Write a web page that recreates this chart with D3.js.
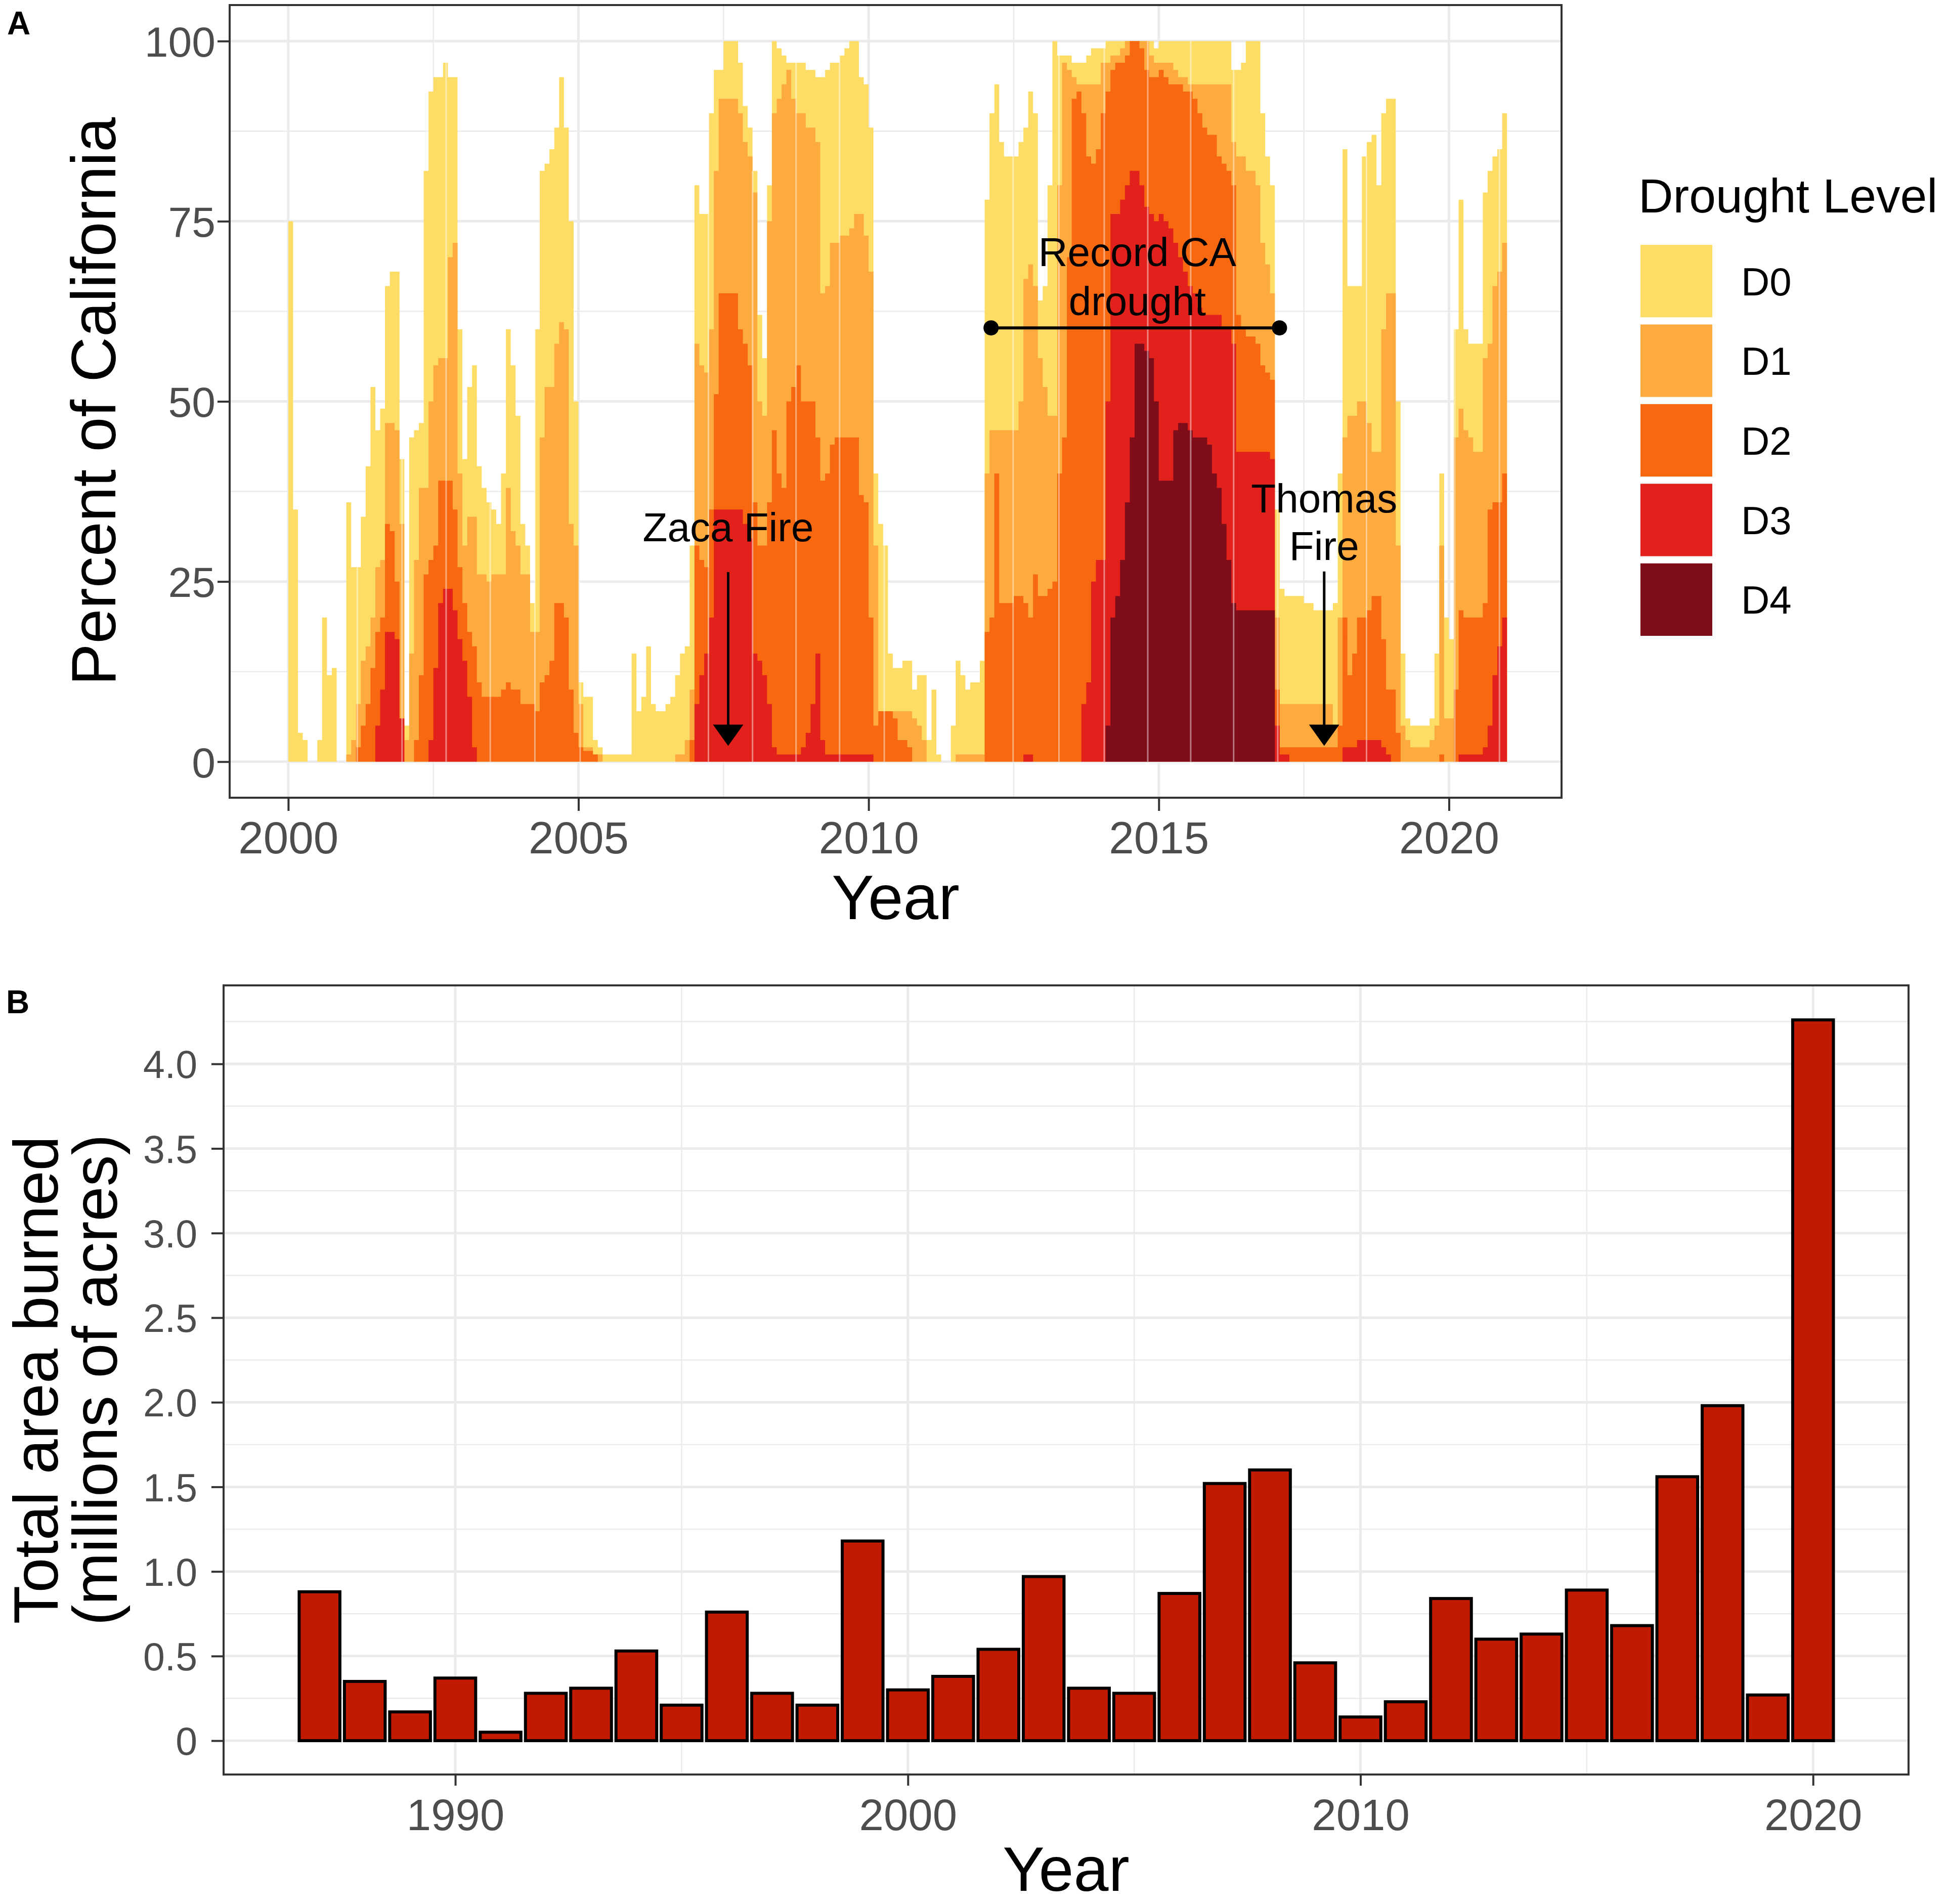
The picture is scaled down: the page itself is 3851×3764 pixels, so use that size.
<!DOCTYPE html>
<html>
<head>
<meta charset="utf-8">
<script src="https://cdn.jsdelivr.net/npm/d3@7"></script>
<style>
  body { margin: 0; background: #fff; }
  svg { display: block; }
  text { font-family: "Liberation Sans", Arial, Helvetica, sans-serif; }
</style>
</head>
<body>
<div id="chart"></div>
<script>
// Panel A: percent of California in each drought level, monthly from Jan 2000 (cumulative D0-D4 etc.)
const droughtStart = 2000
const droughtD0 = [
  75, 35, 4, 3, 0, 0, 3, 20, 12, 13, 0, 0, // 2000
  36, 27, 27, 34, 41, 52, 46, 49, 66, 68, 68, 42, // 2001
  5, 45, 46, 47, 82, 93, 95, 95, 97, 95, 95, 60, // 2002
  42, 52, 55, 41, 38, 36, 35, 33, 40, 60, 55, 48, // 2003
  33, 30, 22, 60, 82, 83, 85, 88, 95, 88, 75, 50, // 2004
  11, 9, 9, 3, 2, 1, 1, 1, 1, 1, 1, 15, // 2005
  7, 9, 16, 8, 7, 7, 8, 9, 12, 15, 16, 30, // 2006
  80, 76, 76, 90, 96, 96, 100, 100, 100, 97, 91, 88, // 2007
  82, 62, 56, 80, 100, 99, 98, 97, 97, 97, 97, 96, // 2008
  96, 95, 95, 96, 97, 97, 98, 99, 100, 100, 95, 94, // 2009
  88, 40, 33, 30, 15, 13, 13, 14, 14, 10, 12, 12, // 2010
  3, 10, 1, 0, 0, 5, 14, 12, 10, 11, 11, 14, // 2011
  78, 90, 94, 86, 84, 84, 84, 86, 88, 93, 90, 64, // 2012
  66, 80, 100, 98, 98, 98, 97, 97, 97, 98, 99, 99, // 2013
  99, 100, 100, 100, 100, 100, 100, 100, 100, 100, 100, 99, // 2014
  100, 100, 100, 100, 100, 100, 100, 100, 100, 100, 100, 100, // 2015
  100, 100, 100, 96, 96, 97, 100, 100, 100, 90, 84, 80, // 2016
  35, 24, 23, 23, 23, 23, 22, 22, 21, 21, 21, 21, // 2017
  22, 40, 85, 66, 66, 66, 84, 86, 87, 80, 90, 92, // 2018
  92, 50, 15, 6, 5, 5, 5, 5, 6, 15, 40, 20, // 2019
  17, 60, 78, 60, 58, 58, 58, 79, 82, 84, 85, 90 // 2020
]
const droughtD1 = [
  0, 0, 0, 0, 0, 0, 0, 0, 0, 0, 0, 0,
  1, 3, 8, 14, 16, 20, 27, 28, 47, 47, 46, 33,
  3, 15, 28, 38, 38, 50, 55, 56, 56, 70, 72, 40,
  30, 34, 34, 26, 26, 25, 26, 26, 26, 38, 32, 30,
  26, 26, 18, 18, 45, 52, 52, 58, 61, 60, 33, 30,
  8, 2, 2, 1, 1, 0, 0, 0, 0, 0, 0, 0,
  0, 0, 0, 0, 0, 0, 0, 0, 1, 1, 3, 10,
  58, 55, 54, 60, 82, 92, 92, 92, 92, 90, 86, 84,
  79, 50, 48, 75, 90, 92, 94, 96, 92, 90, 90, 88,
  88, 86, 65, 66, 72, 72, 73, 73, 74, 76, 76, 73,
  68, 30, 6, 7, 7, 7, 7, 7, 7, 6, 5, 3,
  0, 0, 0, 0, 0, 0, 1, 1, 1, 1, 1, 1,
  40, 46, 46, 46, 46, 46, 46, 50, 67, 69, 66, 56,
  52, 48, 48, 80, 97, 96, 95, 94, 94, 94, 94, 94,
  97, 97, 98, 98, 99, 100, 100, 100, 100, 100, 98, 97,
  97, 97, 97, 96, 95, 95, 94, 94, 94, 94, 94, 94,
  94, 94, 94, 86, 84, 84, 82, 82, 80, 72, 69, 65,
  20, 8, 8, 8, 8, 8, 8, 8, 8, 8, 8, 8,
  5, 20, 45, 48, 48, 50, 50, 47, 43, 43, 60, 65,
  65, 30, 5, 3, 2, 2, 2, 2, 3, 5, 30, 6,
  6, 45, 49, 46, 45, 43, 43, 56, 58, 66, 68, 72
]
const droughtD2 = [
  0, 0, 0, 0, 0, 0, 0, 0, 0, 0, 0, 0,
  0, 0, 2, 5, 8, 13, 18, 20, 33, 32, 25, 5,
  0, 0, 3, 12, 26, 28, 30, 39, 39, 39, 35, 27,
  22, 18, 16, 11, 9, 9, 9, 9, 10, 11, 10, 10,
  8, 8, 8, 7, 11, 12, 14, 22, 22, 20, 10, 4,
  2, 1.5, 1.5, 1, 0, 0, 0, 0, 0, 0, 0, 0,
  0, 0, 0, 0, 0, 0, 0, 0, 0, 0, 0, 3,
  30, 28, 27, 35, 51, 65, 65, 65, 65, 60, 58, 55,
  36, 30, 30, 36, 46, 40, 38, 50, 52, 55, 50, 50,
  50, 45, 39, 40, 44, 45, 45, 45, 45, 45, 37, 36,
  20, 5, 7, 7, 7, 6, 3, 3, 2, 0, 0, 0,
  0, 0, 0, 0, 0, 0, 0, 0, 0, 0, 0, 0,
  18, 20, 40, 22, 22, 22, 23, 23, 22, 20, 26, 23,
  23, 24, 25, 40, 45, 70, 92, 93, 90, 84, 83, 85,
  90, 93, 96, 97, 97, 98, 100, 100, 99, 96, 95, 95,
  96, 95, 94, 94, 94, 93, 93, 92, 90, 88, 87, 87,
  84, 83, 82, 80, 62, 60, 59, 59, 58, 55, 54, 53,
  10, 2, 2, 2, 2, 2, 2, 2, 2, 2, 2, 2,
  2, 5, 20, 12, 15, 20, 20, 21, 23, 23, 17, 10,
  10, 4, 0, 0, 0, 0, 0, 0, 0, 0, 1, 0,
  0, 10, 21, 20, 20, 20, 20, 22, 35, 36, 36, 40
]
const droughtD3 = [
  0, 0, 0, 0, 0, 0, 0, 0, 0, 0, 0, 0,
  0, 0, 0, 0, 0, 0, 5, 10, 18, 18, 17, 6,
  0, 0, 0, 0, 0, 3, 13, 22, 24, 24, 21, 17,
  14, 9, 2, 0, 0, 0, 0, 0, 0, 0, 0, 0,
  0, 0, 0, 0, 0, 0, 0, 0, 0, 0, 0, 0,
  0, 0, 0, 0, 0, 0, 0, 0, 0, 0, 0, 0,
  0, 0, 0, 0, 0, 0, 0, 0, 0, 0, 0, 0,
  8, 12, 15, 20, 35, 35, 35, 35, 35, 35, 33, 31,
  15, 14, 12, 8, 2, 1, 1, 1, 1, 1, 2, 4,
  8, 15, 3, 1, 1, 1, 1, 1, 1, 1, 1, 1,
  1, 0, 0, 0, 0, 0, 0, 0, 0, 0, 0, 0,
  0, 0, 0, 0, 0, 0, 0, 0, 0, 0, 0, 0,
  0, 0, 0, 0, 0, 0, 0, 0, 1, 1, 0, 0,
  0, 0, 0, 0, 0, 0, 0, 0, 8, 11, 25, 28,
  28, 50, 76, 76, 78, 80, 82, 82, 80, 77, 76, 75,
  76, 75, 74, 72, 70, 68, 66, 65, 63, 62, 62, 62,
  62, 60, 60, 58, 43, 43, 43, 43, 43, 43, 43, 42,
  5, 1, 1, 0, 0, 0, 0, 0, 0, 0, 0, 0,
  0, 0, 2, 2, 2, 3, 3, 3, 3, 3, 2, 1,
  0, 0, 0, 0, 0, 0, 0, 0, 0, 0, 0, 0,
  0, 0, 1, 1, 1, 1, 1, 2, 5, 12, 16, 20
]
const droughtD4 = [
  0, 0, 0, 0, 0, 0, 0, 0, 0, 0, 0, 0,
  0, 0, 0, 0, 0, 0, 0, 0, 0, 0, 0, 0,
  0, 0, 0, 0, 0, 0, 0, 0, 0, 0, 0, 0,
  0, 0, 0, 0, 0, 0, 0, 0, 0, 0, 0, 0,
  0, 0, 0, 0, 0, 0, 0, 0, 0, 0, 0, 0,
  0, 0, 0, 0, 0, 0, 0, 0, 0, 0, 0, 0,
  0, 0, 0, 0, 0, 0, 0, 0, 0, 0, 0, 0,
  0, 0, 0, 0, 0, 0, 0, 0, 0, 0, 0, 0,
  0, 0, 0, 0, 0, 0, 0, 0, 0, 0, 0, 0,
  0, 0, 0, 0, 0, 0, 0, 0, 0, 0, 0, 0,
  0, 0, 0, 0, 0, 0, 0, 0, 0, 0, 0, 0,
  0, 0, 0, 0, 0, 0, 0, 0, 0, 0, 0, 0,
  0, 0, 0, 0, 0, 0, 0, 0, 0, 0, 0, 0,
  0, 0, 0, 0, 0, 0, 0, 0, 0, 0, 0, 0,
  0, 5, 20, 23, 28, 36, 45, 58, 58, 57, 56, 50,
  39, 39, 39, 46, 47, 47, 46, 45, 45, 45, 44, 40,
  38, 33, 28, 22, 21, 21, 21, 21, 21, 21, 21, 21,
  0, 0, 0, 0, 0, 0, 0, 0, 0, 0, 0, 0,
  0, 0, 0, 0, 0, 0, 0, 0, 0, 0, 0, 0,
  0, 0, 0, 0, 0, 0, 0, 0, 0, 0, 0, 0,
  0, 0, 0, 0, 0, 0, 0, 0, 0, 0, 0, 0
]
const droughtLevels = ['D0', 'D1', 'D2', 'D3', 'D4']
const droughtColors = ['#FEDD67', '#FDAA3F', '#F76810', '#E2211C', '#7E0C19']
// faint seams visible in the original raster
const seamYears = [2000.43, 2001.19, 2001.96, 2002.72, 2003.48, 2004.25, 2005.03, 2007.24, 2008.0, 2008.75,
  2009.5, 2010.27, 2012.49, 2013.28, 2014.06, 2014.81, 2015.55, 2016.29, 2017.05, 2018.58, 2020.1, 2020.87]

const droughtYTicks = [0, 25, 50, 75, 100]
const droughtYMinor = [12.5, 37.5, 62.5, 87.5]
const droughtXTicks = [2000, 2005, 2010, 2015, 2020]
const droughtXMinor = [2002.5, 2007.5, 2012.5, 2017.5]

const fireEvents = [
  { name: ['Zaca Fire'], year: 2007.58, labelY: [30.6], arrowTop: 26.3, arrowTip: 2.2 },
  { name: ['Thomas', 'Fire'], year: 2017.85, labelY: [34.6, 28.0], arrowTop: 26.4, arrowTip: 2.2 }
]
const recordDrought = { label: ['Record CA', 'drought'], start: 2012.11, end: 2017.08, level: 60.2, labelX: 2014.63, labelY: [68.8, 62.0] }

// Panel B: total area burned, millions of acres
const fireYears = [1987, 1988, 1989, 1990, 1991, 1992, 1993, 1994, 1995, 1996, 1997, 1998, 1999, 2000, 2001,
  2002, 2003, 2004, 2005, 2006, 2007, 2008, 2009, 2010, 2011, 2012, 2013, 2014, 2015, 2016, 2017, 2018, 2019, 2020]
const fireAcres = [0.88, 0.35, 0.17, 0.37, 0.05, 0.28, 0.31, 0.53, 0.21, 0.76, 0.28, 0.21, 1.18, 0.30, 0.38,
  0.54, 0.97, 0.31, 0.28, 0.87, 1.52, 1.60, 0.46, 0.14, 0.23, 0.84, 0.60, 0.63, 0.89, 0.68, 1.56, 1.98, 0.27, 4.26]
const fireYTicks = [0, 0.5, 1.0, 1.5, 2.0, 2.5, 3.0, 3.5, 4.0]
const fireYMinor = [0.25, 0.75, 1.25, 1.75, 2.25, 2.75, 3.25, 3.75, 4.25]
const fireXTicks = [1990, 2000, 2010, 2020]
const fireXMinor = [1995, 2005, 2015]

const W = 3851
const H = 3764
const tickColor = '#4D4D4D'
const borderColor = '#333333'
const gridColor = '#EBEBEB'

const svg = d3.select('#chart')
  .append('svg')
  .attr('width', W)
  .attr('height', H)

svg.append('rect').attr('width', W).attr('height', H).attr('fill', '#fff')

// ---------- Panel A ----------
const pA = { left: 454, right: 3087, top: 10, bottom: 1577 }
const xA = d3.scaleLinear().domain([1998.99, 2021.94]).range([pA.left, pA.right])
const yA = d3.scaleLinear().domain([-5, 105]).range([pA.bottom, pA.top])

const gA = svg.append('g')

const drawGrid = (g, p, x, y, xMaj, xMin, yMaj, yMin) => {
  g.selectAll('.ymin').data(yMin).enter().append('line')
    .attr('x1', p.left).attr('x2', p.right)
    .attr('y1', d => y(d)).attr('y2', d => y(d))
    .attr('stroke', gridColor).attr('stroke-width', 2.5)
  g.selectAll('.xmin').data(xMin).enter().append('line')
    .attr('y1', p.top).attr('y2', p.bottom)
    .attr('x1', d => x(d)).attr('x2', d => x(d))
    .attr('stroke', gridColor).attr('stroke-width', 2.5)
  g.selectAll('.ymaj').data(yMaj).enter().append('line')
    .attr('x1', p.left).attr('x2', p.right)
    .attr('y1', d => y(d)).attr('y2', d => y(d))
    .attr('stroke', gridColor).attr('stroke-width', 5)
  g.selectAll('.xmaj').data(xMaj).enter().append('line')
    .attr('y1', p.top).attr('y2', p.bottom)
    .attr('x1', d => x(d)).attr('x2', d => x(d))
    .attr('stroke', gridColor).attr('stroke-width', 5)
}

drawGrid(gA, pA, xA, yA, droughtXTicks, droughtXMinor, droughtYTicks, droughtYMinor)

const monthDate = i => droughtStart + i / 12
const levelArea = d3.area()
  .curve(d3.curveStepAfter)
  .x(d => xA(d.t))
  .y0(yA(0))
  .y1(d => yA(d.v))

const droughtSeries = [droughtD0, droughtD1, droughtD2, droughtD3, droughtD4]
droughtSeries.forEach((values, k) => {
  const pts = values.map((v, i) => ({ t: monthDate(i), v }))
  pts.push({ t: monthDate(values.length), v: values[values.length - 1] })
  gA.append('path')
    .datum(pts)
    .attr('d', levelArea)
    .attr('fill', droughtColors[k])
})

gA.selectAll('.seam').data(seamYears).enter().append('line')
  .attr('x1', d => xA(d)).attr('x2', d => xA(d))
  .attr('y1', yA(0))
  .attr('y2', d => yA(droughtD0[Math.min(droughtD0.length - 1, Math.floor((d - droughtStart) * 12))]))
  .attr('stroke', '#fff').attr('stroke-opacity', 0.45).attr('stroke-width', 3)

// annotations
const drawArrow = (g, x, top, tip) => {
  g.append('line')
    .attr('x1', x).attr('x2', x)
    .attr('y1', top).attr('y2', tip - 30)
    .attr('stroke', '#000').attr('stroke-width', 5)
  g.append('path')
    .attr('d', `M${x - 30},${tip - 42}L${x + 30},${tip - 42}L${x},${tip}Z`)
    .attr('fill', '#000')
}

fireEvents.forEach(ev => {
  ev.name.forEach((line, i) => {
    gA.append('text')
      .attr('x', xA(ev.year))
      .attr('y', yA(ev.labelY[i]))
      .attr('text-anchor', 'middle')
      .attr('font-size', 80)
      .attr('fill', '#000')
      .text(line)
  })
  drawArrow(gA, xA(ev.year), yA(ev.arrowTop), yA(ev.arrowTip))
})

recordDrought.label.forEach((line, i) => {
  gA.append('text')
    .attr('x', xA(recordDrought.labelX))
    .attr('y', yA(recordDrought.labelY[i]))
    .attr('text-anchor', 'middle')
    .attr('font-size', 80)
    .attr('fill', '#000')
    .text(line)
})
gA.append('line')
  .attr('x1', xA(recordDrought.start)).attr('x2', xA(recordDrought.end))
  .attr('y1', yA(recordDrought.level)).attr('y2', yA(recordDrought.level))
  .attr('stroke', '#000').attr('stroke-width', 6)
gA.selectAll('.dot').data([recordDrought.start, recordDrought.end]).enter().append('circle')
  .attr('cx', d => xA(d)).attr('cy', yA(recordDrought.level)).attr('r', 15).attr('fill', '#000')

gA.append('rect')
  .attr('x', pA.left).attr('y', pA.top)
  .attr('width', pA.right - pA.left).attr('height', pA.bottom - pA.top)
  .attr('fill', 'none').attr('stroke', borderColor).attr('stroke-width', 4)

const styleAxis = (sel, fontSize) => {
  sel.select('.domain').remove()
  sel.selectAll('.tick line').attr('stroke', borderColor).attr('stroke-width', 4)
  sel.selectAll('.tick text')
    .attr('fill', tickColor)
    .attr('font-size', fontSize)
    .attr('font-family', '"Liberation Sans", Arial, sans-serif')
}

gA.append('g')
  .attr('transform', `translate(${pA.left},0)`)
  .call(d3.axisLeft(yA).tickValues(droughtYTicks).tickSize(24).tickPadding(4))
  .call(s => styleAxis(s, 84))
  .selectAll('.tick text').attr('dy', '0.36em')

gA.append('g')
  .attr('transform', `translate(0,${pA.bottom})`)
  .call(d3.axisBottom(xA).tickValues(droughtXTicks).tickFormat(d3.format('d')).tickSize(26).tickPadding(21))
  .call(s => styleAxis(s, 89))

gA.append('text')
  .attr('transform', `translate(228,${(pA.top + pA.bottom) / 2}) rotate(-90)`)
  .attr('text-anchor', 'middle')
  .attr('font-size', 124)
  .attr('fill', '#000')
  .text('Percent of California')

gA.append('text')
  .attr('x', (pA.left + pA.right) / 2)
  .attr('y', 1817)
  .attr('text-anchor', 'middle')
  .attr('font-size', 125)
  .attr('fill', '#000')
  .text('Year')

svg.append('text')
  .attr('x', 14).attr('y', 68)
  .attr('font-size', 64).attr('font-weight', 'bold')
  .text('A')

// legend
const legend = svg.append('g').attr('transform', 'translate(3243,0)')
legend.append('text')
  .attr('x', -4).attr('y', 420)
  .attr('font-size', 95)
  .attr('fill', '#000')
  .text('Drought Level')
const keyY = d3.scaleBand().domain(droughtLevels).range([484, 1257]).paddingInner(0.09)
legend.selectAll('.key').data(droughtLevels).enter().append('rect')
  .attr('x', 0)
  .attr('y', d => keyY(d))
  .attr('width', 142)
  .attr('height', keyY.bandwidth())
  .attr('fill', (d, i) => droughtColors[i])
legend.selectAll('.lab').data(droughtLevels).enter().append('text')
  .attr('x', 199)
  .attr('y', d => keyY(d) + keyY.bandwidth() / 2)
  .attr('dy', '0.36em')
  .attr('font-size', 78)
  .attr('fill', '#000')
  .text(d => d)

// ---------- Panel B ----------
const pB = { left: 442, right: 3773, top: 1948, bottom: 3508 }
const xB = d3.scaleLinear().domain([1984.88, 2022.11]).range([pB.left, pB.right])
const yB = d3.scaleLinear().domain([-0.2, 4.464]).range([pB.bottom, pB.top])

const gB = svg.append('g')
drawGrid(gB, pB, xB, yB, fireXTicks, fireXMinor, fireYTicks, fireYMinor)

gB.selectAll('.bar').data(fireYears).enter().append('rect')
  .attr('x', d => xB(d - 0.45))
  .attr('width', d => xB(d + 0.45) - xB(d - 0.45))
  .attr('y', (d, i) => yB(fireAcres[i]))
  .attr('height', (d, i) => yB(0) - yB(fireAcres[i]))
  .attr('fill', '#C21A01')
  .attr('stroke', '#000')
  .attr('stroke-width', 6)

gB.append('rect')
  .attr('x', pB.left).attr('y', pB.top)
  .attr('width', pB.right - pB.left).attr('height', pB.bottom - pB.top)
  .attr('fill', 'none').attr('stroke', borderColor).attr('stroke-width', 4)

gB.append('g')
  .attr('transform', `translate(${pB.left},0)`)
  .call(d3.axisLeft(yB).tickValues(fireYTicks).tickFormat(d => d === 0 ? '0' : d.toFixed(1)).tickSize(24).tickPadding(28))
  .call(s => styleAxis(s, 77))
  .selectAll('.tick text').attr('dy', '0.36em')

gB.append('g')
  .attr('transform', `translate(0,${pB.bottom})`)
  .call(d3.axisBottom(xB).tickValues(fireXTicks).tickFormat(d3.format('d')).tickSize(22).tickPadding(26))
  .call(s => styleAxis(s, 87))

const yTitleB = ['Total area burned', '(millions of acres)']
const yTitleBx = [114, 231]
yTitleB.forEach((line, i) => {
  gB.append('text')
    .attr('transform', `translate(${yTitleBx[i]},${(pB.top + pB.bottom) / 2}) rotate(-90)`)
    .attr('text-anchor', 'middle')
    .attr('font-size', 124)
    .attr('fill', '#000')
    .text(line)
})

gB.append('text')
  .attr('x', (pB.left + pB.right) / 2)
  .attr('y', 3738)
  .attr('text-anchor', 'middle')
  .attr('font-size', 124)
  .attr('fill', '#000')
  .text('Year')

svg.append('text')
  .attr('x', 12).attr('y', 2003)
  .attr('font-size', 64).attr('font-weight', 'bold')
  .text('B')
</script>
</body>
</html>
